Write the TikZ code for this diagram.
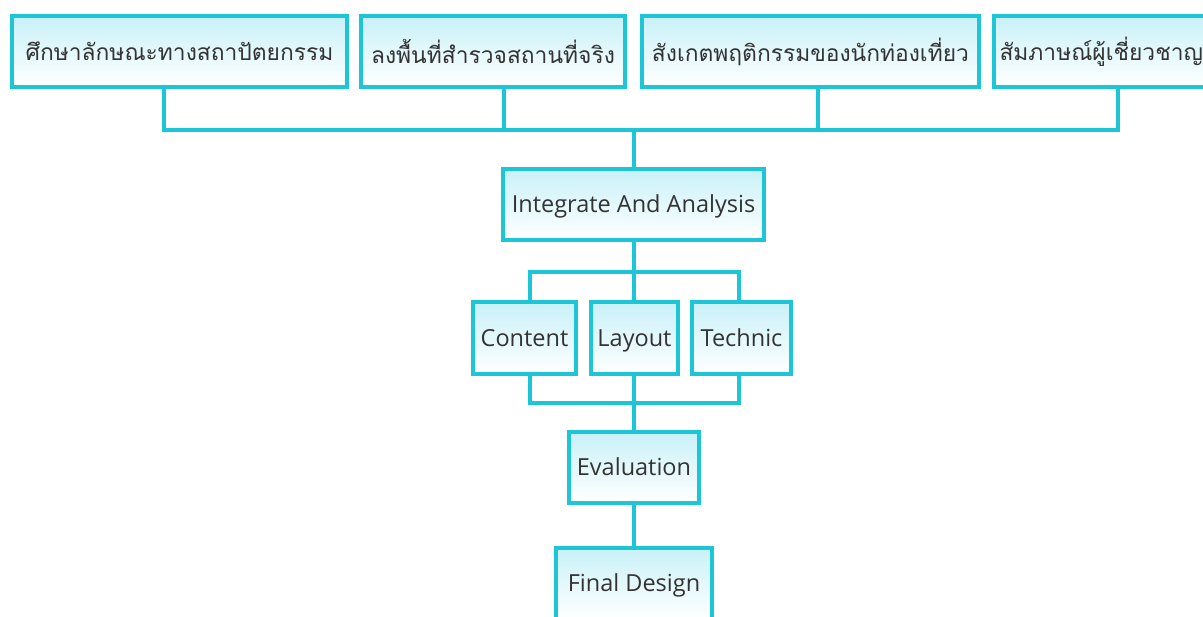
\documentclass[tikz,border=0pt]{standalone}
\usepackage{fontspec}
\newfontfamily\thaifont[Script=Thai]{Loma}
\newfontfamily\latfont{Open Sans}
\definecolor{edge}{RGB}{28,198,214}
\definecolor{fillc}{RGB}{200,241,248}
\begin{document}
\begin{tikzpicture}[x=1pt,y=-1pt,
  box/.style={draw=edge, line width=4pt, top color=fillc, bottom color=white,
    inner sep=0pt, minimum height=71pt, text=black!80},
  th/.style={font=\thaifont\fontsize{22.8}{26}\selectfont},
  la/.style={font=\latfont\fontsize{23.5}{27}\selectfont, text height=19.5pt, text depth=3pt},
  conn/.style={draw=edge, line width=4pt}]
\useasboundingbox (0,0) rectangle (1203,617);
\clip (0,0) rectangle (1203,617);
% top row
\node[box,th,minimum width=335pt] (b1) at (179.5,51.5) {ศึกษาลักษณะทางสถาปัตยกรรม};
\node[box,th,minimum width=264pt] (b2) at (493,51.5) {ลงพื้นที่สำรวจสถานที่จริง};
\node[box,th,minimum width=337pt] (b3) at (810.5,51.5) {สังเกตพฤติกรรมของนักท่องเที่ยว};
\node[box,th,minimum width=248pt,text width=237pt,align=left] (b4) at (1118,51.5) {สัมภาษณ์ผู้เชี่ยวชาญ};
% middle
\node[box,la,minimum width=261pt] (ia) at (633.5,204.5) {Integrate And Analysis};
\node[box,la,minimum width=103pt,minimum height=72pt] (co) at (524.5,338) {Content};
\node[box,la,minimum width=87pt,minimum height=72pt] (ly) at (634.5,338) {Layout};
\node[box,la,minimum width=99pt,minimum height=72pt] (te) at (741.5,338) {Technic};
\node[box,la,minimum width=130pt] (ev) at (634,467.5) {Evaluation};
\node[box,la,minimum width=156pt] (fd) at (634,583.5) {Final Design};
% junction coordinates
\coordinate (j1) at (164,130);
\coordinate (j2) at (504,130);
\coordinate (j3) at (818,130);
\coordinate (j4) at (1118,130);
\coordinate (jc) at (634,130);
\coordinate (k1) at (530,272);
\coordinate (k2) at (634,272);
\coordinate (k3) at (739,272);
\coordinate (m1) at (530,403);
\coordinate (m2) at (634,403);
\coordinate (m3) at (739,403);
% connectors
\draw[conn] (j1 |- b1.south) -- (j1) -- (j4) -- (j4 |- b4.south);
\draw[conn] (j2 |- b2.south) -- (j2);
\draw[conn] (j3 |- b3.south) -- (j3);
\draw[conn] (jc) -- (jc |- ia.north);
\draw[conn] (k2 |- ia.south) -- (k2);
\draw[conn] (k1 |- co.north) -- (k1) -- (k3) -- (k3 |- te.north);
\draw[conn] (k2) -- (k2 |- ly.north);
\draw[conn] (m1 |- co.south) -- (m1) -- (m3) -- (m3 |- te.south);
\draw[conn] (m2 |- ly.south) -- (m2) -- (m2 |- ev.north);
\draw[conn] (ev.south) -- (fd.north);
\end{tikzpicture}
\end{document}
